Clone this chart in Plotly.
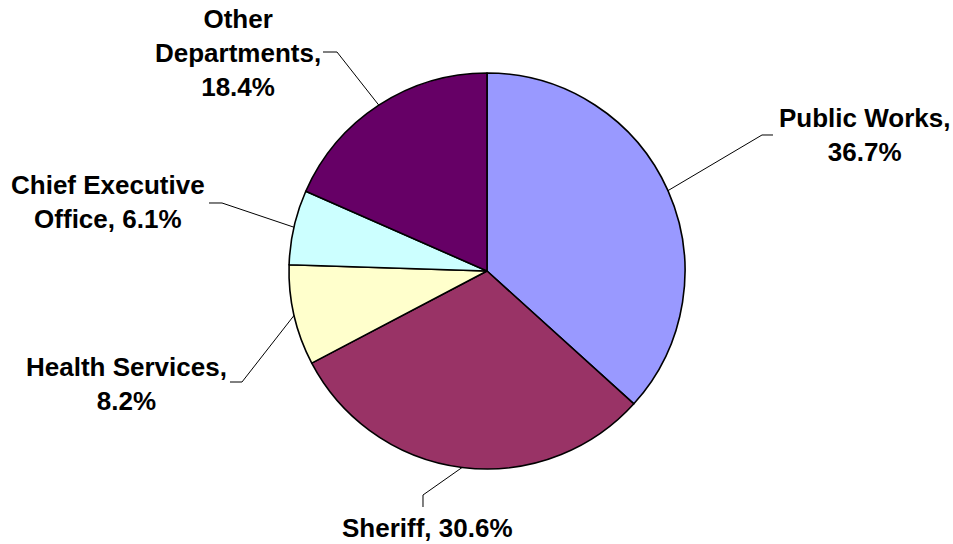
import math
import plotly.graph_objects as go

# Budget share by department
departments = ["Public Works", "Sheriff", "Health Services",
               "Chief Executive Office", "Other Departments"]
shares = [36.7, 30.6, 8.2, 6.1, 18.4]
slice_colors = ["#9999FF", "#993366", "#FFFFCC", "#CCFFFF", "#660066"]

# Label text blocks (as drawn, with line breaks)
label_lines = [
    "Public Works,<br>36.7%",
    "Sheriff, 30.6%",
    "Health Services,<br>8.2%",
    "Chief Executive<br>Office, 6.1%",
    "Other<br>Departments,<br>18.4%",
]

# Figure geometry (pixels)
W, H = 953, 544
CX, CY, R = 487, 271, 198

# Label placement: text centre, leader elbow, leader end (pixels)
label_pos = [(864, 135), (427, 528), (126, 384), (108, 202), (238, 53)]
leader_elbow = [(762, 135), (423, 495), (242, 382), (222, 203), (337, 52)]
leader_end = [(773, 135), (423, 507), (230, 382), (209, 203), (323, 52)]


def px_to_paper(x, y):
    return x / W, 1 - y / H


fig = go.Figure(
    go.Pie(
        labels=departments,
        values=shares,
        sort=False,
        direction="clockwise",
        rotation=0,
        textinfo="none",
        hoverinfo="label+percent",
        marker=dict(colors=slice_colors, line=dict(color="black", width=1.6)),
        domain=dict(x=[(CX - R) / W, (CX + R) / W],
                    y=[1 - (CY + R) / H, 1 - (CY - R) / H]),
    )
)

# Leader lines start at the mid-angle of each slice on the rim
total = sum(shares)
cum = 0.0
shapes = []
annotations = []
for i, v in enumerate(shares):
    mid = (cum + v / 2) / total
    cum += v
    ang = math.radians(90 - 360 * mid)
    sx = CX + R * math.cos(ang)
    sy = CY - R * math.sin(ang)
    pts = [(sx, sy), leader_elbow[i], leader_end[i]]
    path = "M " + " L ".join(
        "{:.5f},{:.5f}".format(*px_to_paper(x, y)) for x, y in pts)
    shapes.append(dict(type="path", xref="paper", yref="paper", path=path,
                       line=dict(color="black", width=1)))
    ax, ay = px_to_paper(*label_pos[i])
    annotations.append(dict(
        x=ax, y=ay, xref="paper", yref="paper", text=label_lines[i],
        showarrow=False, xanchor="center", yanchor="middle", align="center",
        font=dict(family="Arial, Liberation Sans, sans-serif", size=26,
                  color="black", weight="bold"),
    ))

fig.update_layout(
    width=W, height=H,
    margin=dict(l=0, r=0, t=0, b=0),
    paper_bgcolor="white",
    plot_bgcolor="white",
    showlegend=False,
    shapes=shapes,
    annotations=annotations,
)

fig.write_html("out.html")
